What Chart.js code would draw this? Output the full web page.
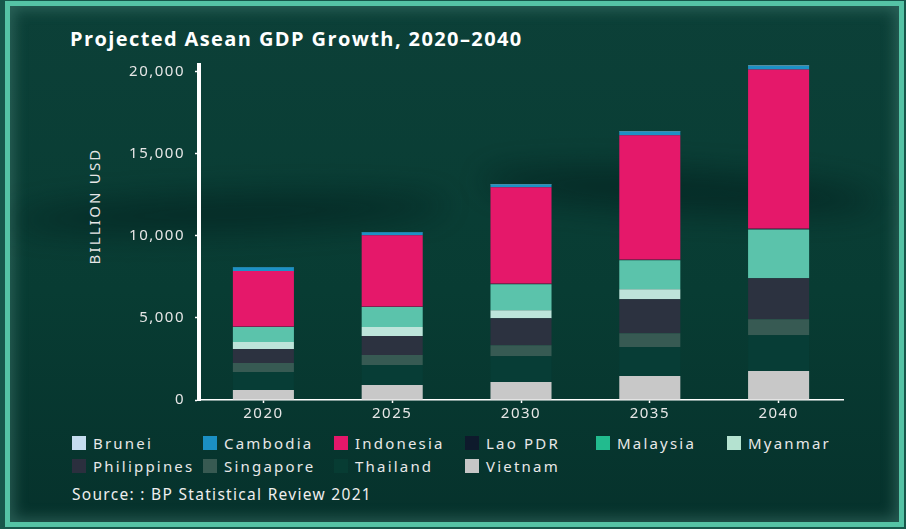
<!DOCTYPE html>
<html>
<head>
<meta charset="utf-8">
<script src="https://cdn.jsdelivr.net/npm/chart.js@4.4.1/dist/chart.umd.min.js"></script>
<style>
  html, body { margin: 0; padding: 0; }
  body {
    width: 906px; height: 529px; position: relative; overflow: hidden;
    background: #17574b; font-family: 'Noto Sans', sans-serif;
  }
  #frame {
    position: absolute; left: 5px; top: 1px; width: 899px; height: 526px;
    box-sizing: border-box; border: 5px solid #55c3a5; overflow: hidden;
    background: linear-gradient(180deg, #0c4038 0%, #083c33 55%, #06322c 100%);
    box-shadow: inset 0 0 14px 4px rgba(80, 140, 128, 0.45);
  }
  .haze { position: absolute; border-radius: 50%; background: rgba(0, 22, 22, 0.5); filter: blur(16px); }
  #title {
    position: absolute; left: 70px; top: 25px; color: #fff;
    font: bold 20px 'Open Sans', sans-serif; letter-spacing: 1.4px; white-space: nowrap;
  }
  #ytitle {
    position: absolute; left: 94px; top: 206px; transform: translate(-50%, -50%) rotate(-90deg);
    color: #e6e6e6; font: 15px 'Noto Sans', sans-serif; letter-spacing: 2.2px; white-space: nowrap;
  }
  #chart { position: absolute; left: 0; top: 0; }
  #legend {
    position: absolute; left: 72px; top: 432px;
    display: grid; grid-template-columns: repeat(6, 131px); grid-auto-rows: 22.5px;
  }
  .item { display: flex; align-items: center; color: #e8e8e8; font: 15px 'Noto Sans', sans-serif; letter-spacing: 2.2px; white-space: nowrap; }
  .box { width: 14px; height: 14px; margin-right: 7px; flex: none; }
  #source {
    position: absolute; left: 72px; top: 483px; color: #eeeeee;
    font: 15.5px 'Noto Sans', sans-serif; letter-spacing: 1.3px; white-space: nowrap;
  }
</style>
</head>
<body>
<div id="frame">
  <div class="haze" style="left:0px;top:190px;width:440px;height:34px;transform:rotate(-2deg)"></div>
  <div class="haze" style="left:470px;top:165px;width:400px;height:40px;transform:rotate(3deg)"></div>
</div>
<div id="title">Projected Asean GDP Growth, 2020–2040</div>
<div id="ytitle">BILLION USD</div>
<canvas id="chart" width="906" height="430"></canvas>
<div id="legend"></div>
<div id="source">Source: : BP Statistical Review 2021</div>

<script>
// values in billion USD
const years = ['2020', '2025', '2030', '2035', '2040'];
const vietnam     = [610, 910, 1090, 1460, 1760];
const thailand    = [1090, 1220, 1580, 1760, 2190];
const singapore   = [550, 610, 670, 850, 970];
const philippines = [850, 1150, 1640, 2070, 2490];
const myanmar     = [430, 550, 490, 610, 0];
const malaysia    = [910, 1220, 1580, 1760, 2980];
const laoPdr      = [20, 25, 30, 35, 40];
const indonesia   = [3390, 4350, 5870, 7570, 9690];
const cambodia    = [240, 180, 180, 240, 240];
const brunei      = [15, 17, 19, 21, 23];
const yTicks      = [0, 5000, 10000, 15000, 20000];

function series(label, data, color, legendColor) {
  return { label, data, backgroundColor: color, legendColor, borderWidth: 0 };
}

// stacking order: first one sits at the bottom
const datasets = [
  series('Vietnam', vietnam, '#c8c8c8', '#c6c6c6'),
  series('Thailand', thailand, '#073d36', '#073c33'),
  series('Singapore', singapore, '#375a53', '#385a52'),
  series('Philippines', philippines, '#2c3240', '#2b2f3e'),
  series('Myanmar', myanmar, '#bde4da', '#b4e2d0'),
  series('Malaysia', malaysia, '#5bc3ab', '#22bb8e'),
  series('Lao PDR', laoPdr, '#0e1a2c', '#0e1a2c'),
  series('Indonesia', indonesia, '#e5186a', '#e5176a'),
  series('Cambodia', cambodia, '#1c91c5', '#1b90c4'),
  series('Brunei', brunei, '#c5dcef', '#c5dcef')
];

const letterSpacing = {
  id: 'letterSpacing',
  beforeUpdate(chart) { chart.ctx.letterSpacing = '1.5px'; },
  beforeDraw(chart) { chart.ctx.letterSpacing = '1.5px'; }
};

const tickFont = { family: 'Noto Sans', size: 15 };

const chart = new Chart(document.getElementById('chart'), {
  type: 'bar',
  data: { labels: years, datasets },
  plugins: [letterSpacing],
  options: {
    responsive: false,
    animation: false,
    categoryPercentage: 0.6,
    barPercentage: 0.79,
    layout: { padding: { top: 65, right: 63, bottom: 0, left: 0 } },
    plugins: { legend: { display: false }, tooltip: { enabled: false } },
    scales: {
      x: {
        stacked: true,
        grid: { drawOnChartArea: false, offset: false, color: '#ffffff', tickLength: 3, tickWidth: 1.5 },
        border: { color: '#ffffff', width: 1.5 },
        ticks: { color: '#e6e6e6', font: tickFont, padding: 2 },
        afterFit(scale) { scale.height = 30; }
      },
      y: {
        stacked: true,
        min: 0,
        max: 20400,
        afterBuildTicks(scale) { scale.ticks = yTicks.map(v => ({ value: v })); },
        grid: { drawOnChartArea: false, color: '#ffffff', tickLength: 4, tickWidth: 1.5 },
        border: { color: '#ffffff', width: 4 },
        ticks: { color: '#e6e6e6', font: tickFont, padding: 10, callback: v => v.toLocaleString('en-US') },
        afterFit(scale) { scale.width = 199; }
      }
    }
  }
});

// legend in alphabetical order, laid out in fixed columns
const legend = document.getElementById('legend');
datasets.slice().reverse().forEach(d => {
  const item = document.createElement('div');
  item.className = 'item';
  item.innerHTML = `<span class="box" style="background:${d.legendColor}"></span><span>${d.label}</span>`;
  legend.appendChild(item);
});
</script>
</body>
</html>
